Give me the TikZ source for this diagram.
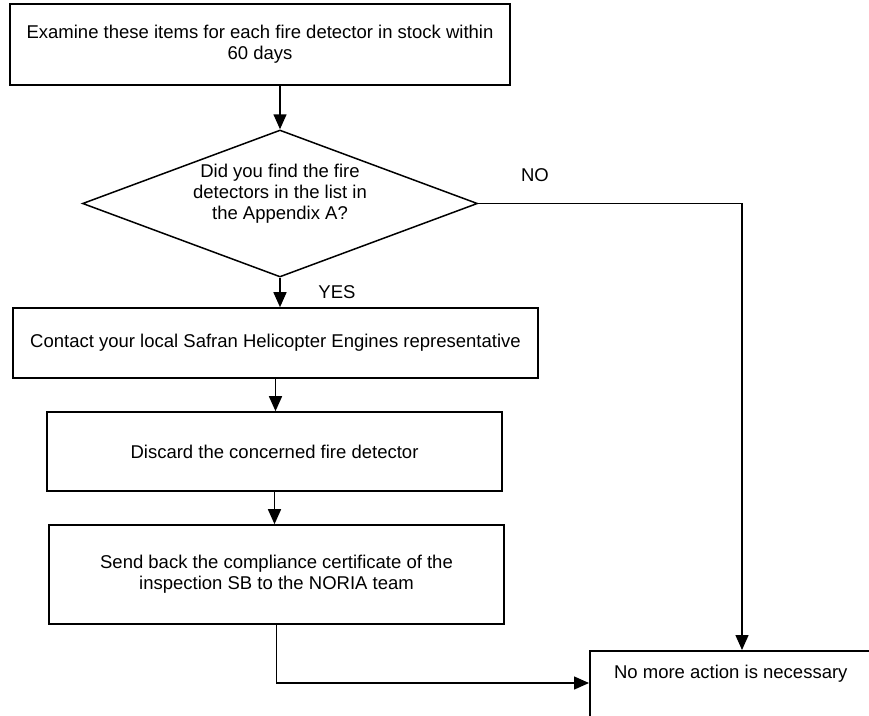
\documentclass[tikz,border=0pt]{standalone}
\usepackage{fontspec}
\setmainfont{Liberation Sans}
\usetikzlibrary{shapes.geometric,arrows.meta}

\begin{document}
\begin{tikzpicture}[x=1pt,y=-1pt,
   every node/.style={font=\fontsize{18.5}{21}\selectfont},
   box/.style={draw,line width=1.6pt,rectangle,inner sep=0pt,align=center},
   decide/.style={draw,line width=1.5pt,diamond,inner sep=0pt,align=center,
      aspect=2.69,minimum width=395pt,minimum height=147pt},
   arr/.style={line width=1.5pt,-{Triangle[width=13pt,length=15pt]}}]
\useasboundingbox (0,0) rectangle (869,715);
\clip (0,0) rectangle (869,715);
\node[box,line width=2.5pt,minimum width=500pt,minimum height=81pt] (check) at (260,44.5)
   {Examine these items for each fire detector in stock within\\60 days};
\node[decide,text height=40pt,text depth=7.6pt] (dia) at (280,203.5)
   {Did you find the fire\\detectors in the list in\\the Appendix A?};
\node[box,minimum width=525pt,minimum height=70pt] (contact) at (275.5,343)
   {Contact your local Safran Helicopter Engines representative};
\node[box,minimum width=455pt,minimum height=79pt] (discard) at (274.5,451.5)
   {Discard the concerned fire detector};
\node[box,minimum width=455pt,minimum height=99pt] (send) at (276.5,574.5)
   {Send back the compliance certificate of the\\inspection SB to the NORIA team};
\node[box,anchor=north west,minimum width=282pt,text height=28pt,text depth=80pt] (noaction) at (589,650)
   {No more action is necessary};
\node (yes) at (337,292) {YES};
\node (no) at (535,175) {NO};
\coordinate (nobend) at (742,203.5);
\coordinate (sendbend) at (278,683);
\draw[arr] (dia.north |- check.south) -- (dia.north);
\draw[arr] (dia.south) -- (dia.south |- contact.north);
\draw[arr] (contact.south) -- (contact.south |- discard.north);
\draw[arr] (discard.south) -- (discard.south |- send.north);
\draw[arr] (dia.east) -- (nobend) -- (nobend |- noaction.north);
\draw[arr] (send.south) |- (noaction.west |- sendbend);
\end{tikzpicture}
\end{document}
